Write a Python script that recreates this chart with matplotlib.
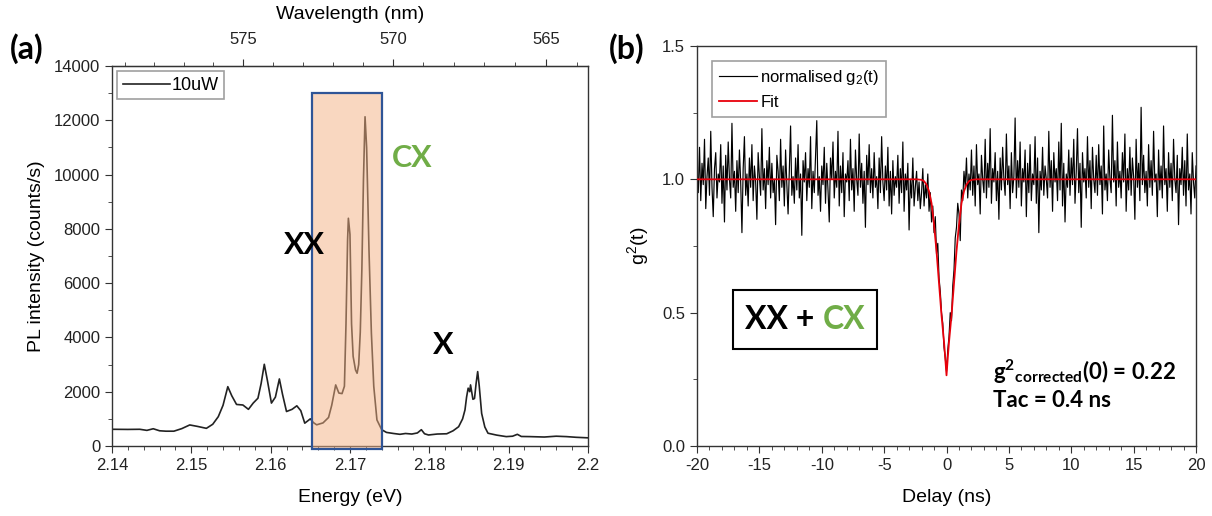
import numpy as np
import matplotlib
matplotlib.use("Agg")
import matplotlib.pyplot as plt
from matplotlib.patches import Rectangle
from matplotlib.offsetbox import TextArea, HPacker, AnchoredOffsetbox
from matplotlib.ticker import MultipleLocator, FixedLocator

plt.rcParams['font.family'] = ['Liberation Sans', 'DejaVu Sans']
plt.rcParams['mathtext.default'] = 'regular'
plt.rcParams['axes.unicode_minus'] = False

GREEN = '#70AD47'
AXCOL = '#333333'

# (a) PL spectrum, 10uW
energy = [2.1400, 2.1420, 2.1435, 2.1444, 2.1452, 2.1460, 2.1468, 2.1478, 2.1488, 2.1498,
          2.1508, 2.1519, 2.1527, 2.1534, 2.1540, 2.1546, 2.1551, 2.1557, 2.1565, 2.1572,
          2.1578, 2.1584, 2.1588, 2.1592, 2.1596, 2.1601, 2.1606, 2.1611, 2.1615, 2.1620,
          2.1627, 2.1633, 2.1638, 2.1643, 2.1647, 2.1650, 2.1654, 2.1658, 2.1666, 2.1673,
          2.1677, 2.1682, 2.1686, 2.1690, 2.1693, 2.1695, 2.1697, 2.1698, 2.1700, 2.1702,
          2.1704, 2.1707, 2.1709, 2.1711, 2.1713, 2.1715, 2.1717, 2.1719, 2.1721, 2.1724,
          2.1727, 2.1730, 2.1734, 2.1740, 2.1746, 2.1755, 2.1763, 2.1770, 2.1778, 2.1785,
          2.1790, 2.1794, 2.1799, 2.1810, 2.1822, 2.1830, 2.1837, 2.1842, 2.1845, 2.1847,
          2.1849, 2.1851, 2.1852, 2.1855, 2.1857, 2.1859, 2.1861, 2.1863, 2.1866, 2.1870,
          2.1874, 2.1885, 2.1897, 2.1905, 2.1911, 2.1916, 2.1927, 2.1945, 2.1960, 2.1973,
          2.1985, 2.2000]
pl_counts = [615, 610, 615, 575, 635, 560, 545, 545, 640, 775,
             720, 650, 800, 1080, 1500, 2185, 1850, 1530, 1510, 1350,
             1580, 1760, 2300, 3010, 2400, 1580, 1800, 2470, 1900, 1270,
             1350, 1480, 1300, 840, 930, 1000, 860, 780, 850, 1050,
             1500, 2250, 1950, 1930, 2200, 4500, 7600, 8390, 7800, 4500,
             3300, 2800, 2680, 3000, 4200, 6500, 9800, 12130, 11000, 7200,
             4160, 2200, 960, 600, 500, 460, 430, 460, 440, 480,
             600, 450, 405, 440, 450, 560, 710, 1000, 1330, 1800,
             2130, 2000, 2250, 1720, 1750, 2300, 2740, 2200, 1200, 700,
             470, 400, 345, 360, 430, 350, 345, 330, 360, 345,
             320, 300]
wl_major = [575, 570, 565]
wl_minor = [579, 578, 577, 576, 574, 573, 572, 571, 569, 568, 567, 566, 564]
box_e = (2.1652, 2.1741)
box_top = 13000

# (b) normalised g2(t), 0.1 ns bins from -20 to 20 ns
delay = np.linspace(-20, 20, 401)
g2_data = [
    1.03, 0.95, 1.12, 0.92, 1.06, 0.98, 1.15, 0.89, 1.01, 1.08, 0.94, 1.18, 0.97, 0.86, 1.04, 1.10, 0.93, 1.02, 0.99, 1.13,
    0.91, 1.05, 0.84, 1.09, 0.96, 1.14, 1.00, 0.93, 1.21, 0.97, 1.03, 0.88, 1.07, 0.95, 1.11, 0.99, 0.80, 1.04, 1.16, 0.94,
    1.02, 0.90, 1.08, 0.97, 1.13, 0.92, 1.05, 0.99, 0.85, 1.10, 1.01, 0.94, 1.19, 0.96, 1.04, 0.89, 1.07, 0.98, 1.12, 0.93,
    1.06, 0.95, 1.00, 0.83, 1.09, 1.03, 0.92, 1.15, 0.97, 1.05, 0.90, 1.11, 0.98, 0.87, 1.04, 1.20, 0.94, 1.01, 0.91, 1.08,
    0.96, 1.13, 0.93, 1.02, 0.79, 1.07, 0.99, 1.10, 0.92, 1.04, 0.97, 1.16, 0.89, 1.03, 0.95, 1.09, 1.22, 0.94, 1.01, 0.88,
    1.05, 0.98, 1.12, 0.91, 1.06, 0.96, 0.84, 1.08, 1.00, 1.14, 0.93, 1.03, 0.97, 1.18, 0.90, 1.05, 0.95, 1.10, 0.86, 1.02,
    0.99, 1.07, 0.92, 1.15, 0.96, 1.04, 0.88, 1.11, 1.00, 0.94, 1.17, 0.97, 1.06, 0.91, 1.03, 0.82, 1.09, 0.98, 1.13, 0.95,
    1.04, 0.93, 1.10, 0.97, 1.01, 0.89, 1.08, 0.95, 1.16, 0.99, 0.92, 1.05, 0.96, 1.12, 0.90, 1.03, 0.87, 1.07, 0.94, 1.01,
    0.97, 1.09, 0.91, 1.04, 0.95, 1.14, 0.88, 1.02, 0.96, 1.06, 0.81, 1.00, 0.93, 1.08, 0.90, 0.97, 1.03, 0.92, 0.99, 0.89,
    0.95, 1.04, 0.90, 0.98, 0.93, 1.02, 0.88, 0.95, 0.84, 0.90, 0.80, 0.86, 0.72, 0.76, 0.63, 0.58, 0.50, 0.46, 0.37, 0.33,
    0.28, 0.36, 0.41, 0.50, 0.47, 0.60, 0.66, 0.78, 0.82, 0.91, 0.87, 0.77, 0.96, 0.92, 1.03, 0.97, 1.08, 0.93, 1.02, 0.96,
    1.11, 0.94, 1.05, 0.90, 1.13, 0.98, 1.02, 0.87, 1.09, 1.00, 0.95, 1.15, 0.93, 1.06, 0.97, 1.19, 0.91, 1.04, 0.99, 1.10,
    0.92, 1.03, 0.85, 1.08, 0.96, 1.12, 1.00, 0.94, 1.17, 0.98, 1.05, 0.89, 1.10, 0.95, 1.01, 1.23, 0.93, 1.07, 0.97, 1.14,
    0.90, 1.04, 0.99, 1.11, 0.86, 1.06, 0.95, 1.13, 0.92, 1.02, 0.98, 1.16, 0.91, 1.08, 0.80, 1.03, 0.96, 1.12, 0.94, 1.05,
    1.00, 0.93, 1.18, 0.97, 1.07, 0.88, 1.10, 0.99, 1.04, 0.92, 1.14, 0.96, 1.21, 0.90, 1.06, 0.84, 1.02, 0.97, 1.11, 0.94,
    1.08, 0.98, 1.15, 0.91, 1.03, 1.19, 0.95, 1.06, 0.82, 1.10, 0.99, 1.04, 0.93, 1.16, 0.97, 1.07, 0.89, 1.12, 1.00, 0.95,
    1.09, 0.94, 1.13, 0.98, 1.05, 0.87, 1.20, 0.96, 1.02, 0.92, 1.11, 1.00, 0.95, 1.24, 0.99, 1.07, 0.90, 1.14, 0.97, 1.03,
    0.93, 1.10, 0.99, 1.17, 0.88, 1.04, 0.96, 1.12, 0.94, 1.08, 1.01, 0.85, 1.15, 0.97, 1.06, 0.92, 1.27, 0.98, 1.09, 0.95,
    1.03, 0.90, 1.13, 0.97, 1.07, 0.94, 1.18, 0.99, 1.02, 0.86, 1.11, 0.96, 1.05, 0.93, 1.20, 0.98, 1.04, 0.88, 1.10, 0.97,
    1.06, 0.92, 1.15, 1.00, 0.95, 1.09, 0.83, 1.04, 0.98, 1.12, 0.94, 1.07, 0.90, 1.17, 0.96, 1.02, 0.87, 1.10, 0.99, 0.93,
    1.05]
# fit curve
fit_t = [-20, -2.4, -2.0, -1.8, -1.6, -1.4, -1.2, -1.0, -0.8, -0.6, -0.5, -0.4, -0.3, -0.2, -0.1, 0.0,
         0.1, 0.2, 0.3, 0.4, 0.5, 0.6, 0.8, 1.0, 1.2, 1.4, 1.6, 1.8, 2.0, 2.4, 20]
fit_g = [1.0, 1.0, 0.998, 0.993, 0.98, 0.955, 0.91, 0.83, 0.73, 0.61, 0.55, 0.49, 0.44, 0.39, 0.33, 0.265,
         0.33, 0.39, 0.44, 0.49, 0.55, 0.61, 0.73, 0.83, 0.91, 0.955, 0.98, 0.993, 0.998, 1.0, 1.0]


def style_axes(ax):
    for s in ax.spines.values():
        s.set_color(AXCOL)
        s.set_linewidth(1.0)
    ax.tick_params(which='both', direction='out', colors=AXCOL, labelcolor='#222222',
                   labelsize=12, top=False, right=False)
    ax.tick_params(which='major', length=5)
    ax.tick_params(which='minor', length=3)


fig = plt.figure(figsize=(12.12, 5.16), dpi=100)
ax1 = fig.add_axes([0.0924, 0.1357, 0.3927, 0.7364])
ax2 = fig.add_axes([0.5751, 0.1357, 0.4117, 0.7752])

# ---- (a)
ax1.plot(energy, pl_counts, color='#222222', lw=1.2, label='10uW', zorder=2)
ax1.add_patch(Rectangle((box_e[0], -110), box_e[1] - box_e[0], box_top + 110,
                        facecolor=(244/255, 177/255, 131/255, 0.5), edgecolor='#2F5597',
                        lw=1.6, clip_on=False, zorder=3))
ax1.set_xlim(2.14, 2.2)
ax1.set_ylim(0, 14000)
ax1.xaxis.set_major_locator(FixedLocator([2.14, 2.15, 2.16, 2.17, 2.18, 2.19, 2.2]))
ax1.set_xticklabels(['2.14', '2.15', '2.16', '2.17', '2.18', '2.19', '2.2'])
ax1.xaxis.set_minor_locator(MultipleLocator(0.002))
ax1.yaxis.set_major_locator(MultipleLocator(2000))
ax1.yaxis.set_minor_locator(MultipleLocator(1000))
style_axes(ax1)
ax1.set_xlabel('Energy (eV)', fontsize=14, labelpad=12)
ax1.set_ylabel('PL intensity (counts/s)', fontsize=14, labelpad=6)

top = ax1.secondary_xaxis('top', functions=(lambda e: 1240.0 / np.maximum(e, 1e-9),
                                            lambda w: 1240.0 / np.maximum(w, 1e-9)))
top.xaxis.set_major_locator(FixedLocator(wl_major))
top.xaxis.set_minor_locator(FixedLocator(wl_minor))
top.tick_params(which='both', direction='out', colors=AXCOL, labelcolor='#222222',
                labelsize=12, pad=9)
top.tick_params(which='major', length=5)
top.tick_params(which='minor', length=3)
top.set_xlabel('Wavelength (nm)', fontsize=14, labelpad=9)

leg1 = ax1.legend(loc='upper left', fontsize=13, frameon=True, fancybox=False,
                  handlelength=2.6, handletextpad=0.1, borderpad=0.3, borderaxespad=0.3)
leg1.get_frame().set_edgecolor('#888888')
leg1.get_frame().set_linewidth(1.2)

ax1.text(2.1643, 7405, 'XX', family=['Lato', 'DejaVu Sans'], fontweight='bold',
         fontsize=22, ha='center', va='center')
ax1.text(2.1779, 10610, 'CX', family=['Lato', 'DejaVu Sans'], fontweight='bold',
         fontsize=22, ha='center', va='center', color=GREEN)
ax1.text(2.1817, 3720, 'X', family=['Lato', 'DejaVu Sans'], fontweight='bold',
         fontsize=22, ha='center', va='center')

# ---- (b)
ax2.plot(delay, g2_data, color='black', lw=0.85, label='normalised g$_2$(t)', zorder=2)
ax2.plot(fit_t, fit_g, color='#E8000B', lw=1.3, label='Fit', zorder=3)
ax2.set_xlim(-20, 20)
ax2.set_ylim(0, 1.5)
ax2.xaxis.set_major_locator(MultipleLocator(5))
ax2.xaxis.set_minor_locator(MultipleLocator(1))
ax2.yaxis.set_major_locator(MultipleLocator(0.5))
ax2.yaxis.set_minor_locator(MultipleLocator(0.25))
style_axes(ax2)
ax2.set_xlabel('Delay (ns)', fontsize=14, labelpad=12)
ax2.set_ylabel('g$^2$(t)', fontsize=14, labelpad=8)

leg2 = ax2.legend(loc='upper left', fontsize=12, frameon=True, fancybox=False,
                  handlelength=2.3, handletextpad=0.2, borderpad=0.4, borderaxespad=0.9,
                  labelspacing=0.5)
leg2.get_frame().set_edgecolor('#888888')
leg2.get_frame().set_linewidth(1.2)

# "XX + CX" framed label
ax2.add_patch(Rectangle((0.072, 0.2425), 0.289, 0.1475, transform=ax2.transAxes,
                        facecolor='white', edgecolor='black', lw=1.5, zorder=4))
lbl_font = dict(family=['Lato', 'DejaVu Sans'], weight='bold', size=23)
parts = HPacker(children=[TextArea('XX + ', textprops=dict(color='black', **lbl_font)),
                          TextArea('CX', textprops=dict(color=GREEN, **lbl_font))],
                align='baseline', pad=0, sep=0)
abox = AnchoredOffsetbox(loc='center', child=parts, pad=0, frameon=False,
                         bbox_to_anchor=(0.2165, 0.316), bbox_transform=ax2.transAxes,
                         borderpad=0)
abox.set_zorder(5)
ax2.add_artist(abox)

ax2.text(3.7, 0.2475, 'g$^{2}$$_{corrected}$(0) = 0.22', family=['Lato', 'DejaVu Sans'],
         fontweight='bold', fontsize=16, va='baseline', ha='left')
ax2.text(3.7, 0.146, 'Tac = 0.4 ns', family=['Lato', 'DejaVu Sans'],
         fontweight='bold', fontsize=16, va='baseline', ha='left')

fig.text(0.008, 0.905, '(a)', family=['Lato', 'DejaVu Sans'], fontweight='bold', fontsize=23,
         va='center', ha='left')
fig.text(0.502, 0.905, '(b)', family=['Lato', 'DejaVu Sans'], fontweight='bold', fontsize=23,
         va='center', ha='left')

fig.savefig('out.png', dpi=100)
